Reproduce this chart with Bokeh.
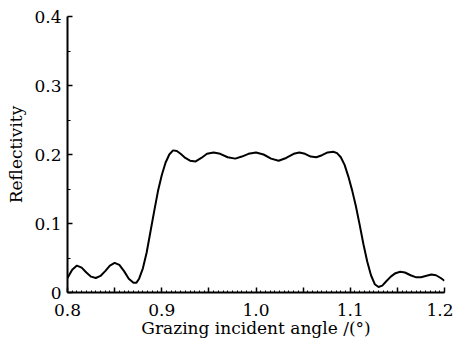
from bokeh.plotting import figure
from bokeh.models import FixedTicker, CustomJSTickFormatter, Range1d
from bokeh.embed import file_html
from bokeh.resources import INLINE

angle = [0.800, 0.805, 0.810, 0.815, 0.820, 0.825, 0.830, 0.835, 0.840, 0.845,
         0.850, 0.855, 0.860, 0.865, 0.870, 0.873, 0.876, 0.880, 0.884, 0.888,
         0.892, 0.896, 0.900, 0.904, 0.908, 0.912, 0.916, 0.920, 0.925, 0.930,
         0.936, 0.942, 0.948, 0.955, 0.962, 0.970, 0.978, 0.985, 0.992, 1.000,
         1.008, 1.016, 1.024, 1.032, 1.040, 1.046, 1.052, 1.058, 1.064, 1.070,
         1.076, 1.082, 1.086, 1.090, 1.094, 1.098, 1.102, 1.106, 1.110, 1.114,
         1.118, 1.122, 1.126, 1.130, 1.134, 1.138, 1.143, 1.148, 1.153, 1.158,
         1.164, 1.170, 1.175, 1.180, 1.186, 1.191, 1.196, 1.200]
reflectivity = [0.021, 0.033, 0.039, 0.036, 0.029, 0.023, 0.021, 0.024, 0.031, 0.039,
                0.043, 0.040, 0.031, 0.020, 0.014, 0.014, 0.020, 0.035, 0.058, 0.088,
                0.118, 0.147, 0.170, 0.188, 0.200, 0.206, 0.205, 0.201, 0.195, 0.191,
                0.190, 0.195, 0.201, 0.203, 0.201, 0.196, 0.194, 0.197, 0.201, 0.203,
                0.200, 0.194, 0.191, 0.195, 0.201, 0.203, 0.201, 0.197, 0.196, 0.199,
                0.203, 0.204, 0.202, 0.196, 0.185, 0.168, 0.148, 0.125, 0.098, 0.070,
                0.045, 0.025, 0.012, 0.008, 0.010, 0.016, 0.023, 0.028, 0.030, 0.029,
                0.025, 0.022, 0.022, 0.024, 0.026, 0.025, 0.021, 0.017]

x_ticks = [0.8, 0.85, 0.9, 0.95, 1.0, 1.05, 1.1, 1.15, 1.2]
x_minor = [round(0.8 + 0.005 * i, 3) for i in range(81)]
y_ticks = [0.0, 0.1, 0.2, 0.3, 0.4]
y_minor = [0.05, 0.15, 0.25, 0.35]

FONT = "DejaVu Serif"

p = figure(frame_width=377, frame_height=276, output_backend="svg", toolbar_location=None,
           x_range=Range1d(0.8, 1.2), y_range=Range1d(0, 0.4),
           min_border_left=67, min_border_right=9, min_border_top=16, min_border_bottom=40)
p.outline_line_color = None
p.xgrid.visible = False
p.ygrid.visible = False

p.line(angle, reflectivity, line_color="black", line_width=2)

for ax in (p.xaxis[0], p.yaxis[0]):
    ax.axis_line_color = "black"
    ax.axis_line_width = 2
    ax.major_tick_in = 5
    ax.major_tick_out = 0
    ax.major_tick_line_width = 1.5
    ax.minor_tick_in = 2
    ax.minor_tick_out = 0
    ax.minor_tick_line_width = 1
    ax.major_label_text_font = FONT
    ax.major_label_text_font_size = "17px"
    ax.major_label_text_color = "black"
    ax.axis_label_text_font = FONT
    ax.axis_label_text_font_size = "17px"
    ax.axis_label_text_font_style = "normal"
    ax.axis_label_text_color = "black"

p.xaxis[0].ticker = FixedTicker(ticks=x_ticks, minor_ticks=x_minor)
p.xaxis[0].formatter = CustomJSTickFormatter(code="""
    const k = Math.round(tick * 20);
    return (k % 2 == 1) ? "" : tick.toFixed(1);
""")
p.xaxis[0].major_label_standoff = 11
p.xaxis[0].axis_label = "Grazing incident angle /(°)"
p.xaxis[0].axis_label_standoff = -1

p.yaxis[0].ticker = FixedTicker(ticks=y_ticks, minor_ticks=y_minor)
p.yaxis[0].formatter = CustomJSTickFormatter(code="""
    return (Math.abs(tick) < 1e-9) ? "0" : tick.toFixed(1);
""")
p.yaxis[0].minor_tick_in = 3
p.yaxis[0].major_label_standoff = 6
p.yaxis[0].axis_label = "Reflectivity"
p.yaxis[0].axis_label_standoff = 5

open("out.html", "w").write(file_html(p, INLINE))
